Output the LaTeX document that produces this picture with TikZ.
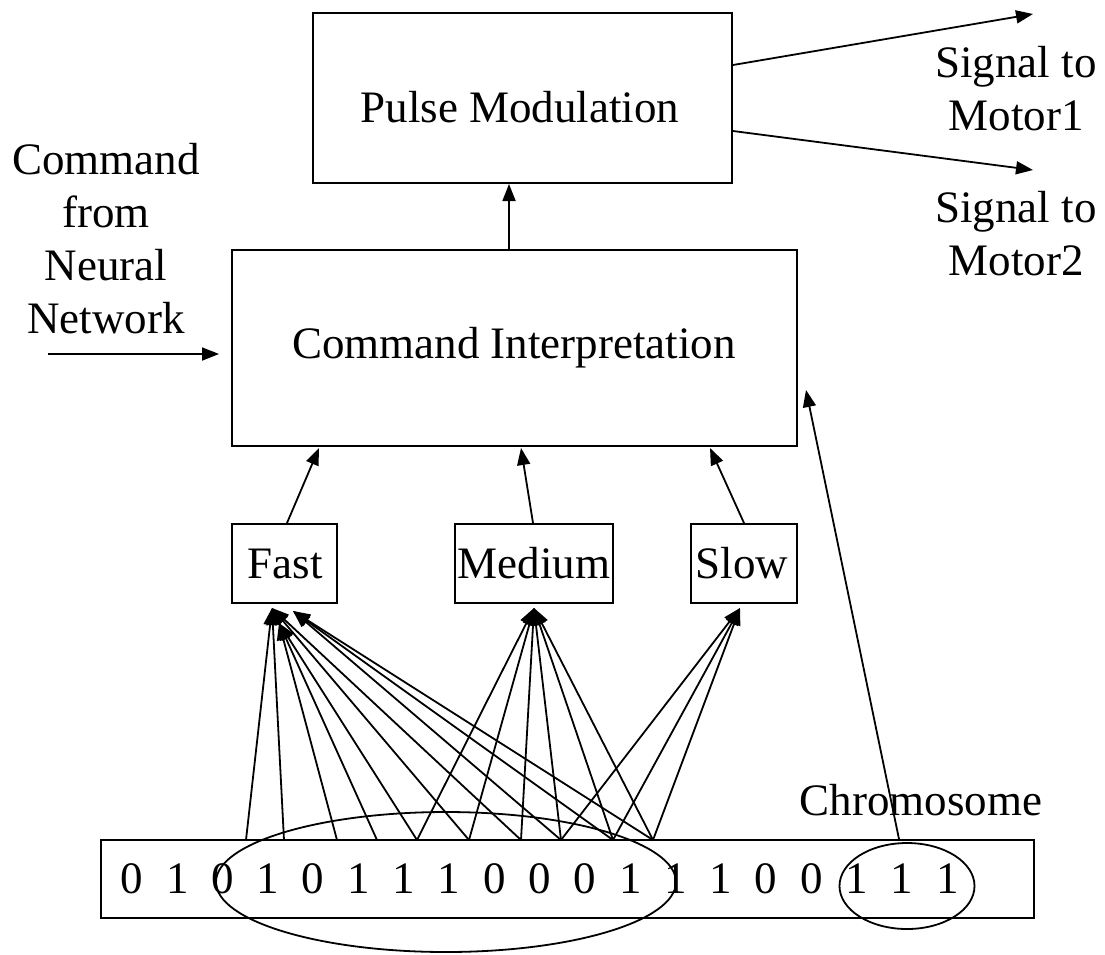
\documentclass[tikz,border=0pt]{standalone}
\usepackage{fontspec}
\setmainfont{Liberation Serif}
\usetikzlibrary{arrows.meta,shapes.geometric}
\begin{document}
\begin{tikzpicture}[x=1pt,y=-1pt,>={Triangle[length=17pt,width=13pt]},line width=1.8pt,
    font=\fontsize{45}{53}\selectfont,
    block/.style={draw,line width=2pt,inner sep=0pt},
    txt/.style={anchor=base,inner sep=0pt},
    group/.style={draw,ellipse,line width=1.8pt,inner sep=0pt}]
    \useasboundingbox (0,0) rectangle (1105,954);
    \node[block,minimum width=419pt,minimum height=170pt] (pm) at (522.5,98) {};
    \node[block,minimum width=565pt,minimum height=196pt] (ci) at (514.5,348) {};
    \node[block,minimum width=105pt,minimum height=79pt] (fast) at (284.5,563.5) {};
    \node[block,minimum width=158pt,minimum height=79pt] (medium) at (534,563.5) {};
    \node[block,minimum width=106pt,minimum height=79pt] (slow) at (744,563.5) {};
    \node[block,minimum width=933pt,minimum height=78pt] (bar) at (567.5,879) {};
    \node[txt] (pmt) at (520,122) {Pulse Modulation};
    \node[txt] (cit) at (514,358) {Command Interpretation};
    \node[txt] (fastt) at (285,578) {Fast};
    \node[txt] (mediumt) at (534,578) {Medium};
    \node[txt] (slowt) at (742,578) {Slow};
    \node[txt,align=center] (nnt) at (106,333) {Command\\from\\Neural\\Network};
    \node[txt,align=center] (m1t) at (1016,130) {Signal to\\Motor1};
    \node[txt,align=center] (m2t) at (1016,275) {Signal to\\Motor2};
    \node[txt] (chrt) at (921,815) {Chromosome};
    \foreach \bit [count=\i from 0] in {0,1,0,1,0,1,1,1,0,0,0,1,1,1,0,0,1,1,1}
        \node[txt] (b\i) at (132+45.3*\i,893) {\bit};
    \node[group,minimum width=460pt,minimum height=140pt] (g1) at (446,882) {};
    \node[group,minimum width=135pt,minimum height=86pt] (g2) at (907,886) {};
    \foreach \x [count=\i] in {246,284,337,377,417,469,521,561,613,653}
        \coordinate (t\i) at (\x,840);
    \coordinate (fa) at ([xshift=-12.5pt,yshift=-4pt]fast.south);
    \coordinate (fb) at ([xshift=-5.5pt,yshift=-19pt]fast.south);
    \coordinate (fc) at ([xshift=8.5pt,yshift=-7pt]fast.south);
    \coordinate (ma) at ([yshift=-4pt]medium.south);
    \coordinate (sa) at ([xshift=-4pt,yshift=-4pt]slow.south);
    \coordinate (m1) at (1033,14);
    \coordinate (m2) at (1033,170);
    \coordinate (nn) at (48,354);
    \foreach \i in {1,2,6,7} \draw[->] (t\i) -- (fa);
    \foreach \i in {3,4,5} \draw[->] (t\i) -- (fb);
    \foreach \i in {8,9,10} \draw[->] (t\i) -- (fc);
    \foreach \i in {5,...,10} \draw[->] (t\i) -- (ma);
    \foreach \i in {8,9,10} \draw[->] (t\i) -- (sa);
    \draw[->] ([xshift=2.5pt]fast.north) -- ([xshift=88pt,yshift=-1pt]ci.south west);
    \draw[->] ([xshift=-1pt]medium.north) -- ([xshift=6.5pt,yshift=-1pt]ci.south);
    \draw[->] (slow.north) -- ([xshift=-88pt,yshift=-1pt]ci.south east);
    \draw[->] ([xshift=-5.5pt]ci.north) -- ([xshift=-5.5pt]ci.north |- pm.south);
    \draw[->] ([yshift=33pt]pm.east) -- (m1);
    \draw[->] ([yshift=-33pt]pm.east) -- (m2);
    \draw[->] (nn) -- ([xshift=-12pt,yshift=-6pt]ci.west);
    \draw[->] ([xshift=-8pt,yshift=3pt]g2.north) -- ([xshift=8pt,yshift=-42pt]ci.east);
\end{tikzpicture}
\end{document}
